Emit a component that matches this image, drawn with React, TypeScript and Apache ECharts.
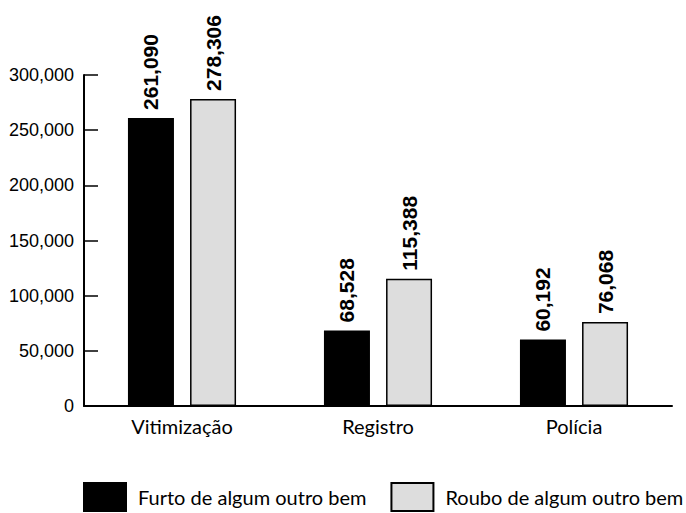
import React, { useEffect, useRef } from "react";
import * as echarts from "echarts";

const categories = ["Vitimização", "Registro", "Polícia"];
const furto = [261090, 68528, 60192];
const roubo = [278306, 115388, 76068];
const seriesNames = ["Furto de algum outro bem", "Roubo de algum outro bem"];
const yTicks = { min: 0, max: 300000, interval: 50000 };

const fmt = (v: number) => v.toLocaleString("en-US");

export default function App() {
  const ref = useRef<HTMLDivElement>(null);
  useEffect(() => {
    if (!ref.current) return;
    const chart = echarts.init(ref.current, undefined, { renderer: "svg" });
    const labelCfg = {
      show: true,
      position: "top" as const,
      rotate: 90,
      align: "left" as const,
      verticalAlign: "middle" as const,
      distance: 8,
      fontFamily: "Liberation Sans",
      fontWeight: "bold" as const,
      fontSize: 21,
      color: "#000",
      formatter: (p: any) => fmt(p.value),
    };
    chart.setOption({
      animation: false,
      grid: { left: 84, right: 14, top: 75, bottom: 107, containLabel: false },
      legend: {
        left: 83,
        top: 482,
        padding: 0,
        itemWidth: 42,
        itemHeight: 28,
        itemGap: 24,
        icon: "rect",
        textStyle: { fontFamily: "Lato", fontSize: 20, color: "#000", padding: [0, 0, 0, 7] },
        data: seriesNames,
      },
      xAxis: {
        type: "category",
        data: categories,
        axisLine: { lineStyle: { color: "#000", width: 2 } },
        axisTick: { inside: true, length: 7, lineStyle: { color: "#000", width: 1.5 } },
        axisLabel: { fontFamily: "Lato", fontSize: 20, color: "#000", margin: 10 },
      },
      yAxis: {
        type: "value",
        min: yTicks.min,
        max: yTicks.max,
        interval: yTicks.interval,
        splitLine: { show: false },
        axisLine: { show: true, lineStyle: { color: "#000", width: 2 } },
        axisTick: { show: true, inside: true, length: 14, lineStyle: { color: "#000", width: 1.5 } },
        axisLabel: {
          fontFamily: "Liberation Sans",
          fontSize: 18,
          color: "#000",
          margin: 10,
          formatter: (v: number) => fmt(v),
        },
      },
      series: [
        {
          name: seriesNames[0],
          type: "bar",
          data: furto,
          barWidth: 46,
          barGap: "35%",
          itemStyle: { color: "#000", borderColor: "#000", borderWidth: 1.5 },
          label: labelCfg,
        },
        {
          name: seriesNames[1],
          type: "bar",
          data: roubo,
          barWidth: 46,
          itemStyle: { color: "#dddddd", borderColor: "#000", borderWidth: 1.5 },
          label: labelCfg,
        },
      ],
    });
    return () => chart.dispose();
  }, []);
  return <div ref={ref} style={{ width: 686, height: 513, position: "absolute", left: 0, top: 0, background: "#fff" }} />;
}
